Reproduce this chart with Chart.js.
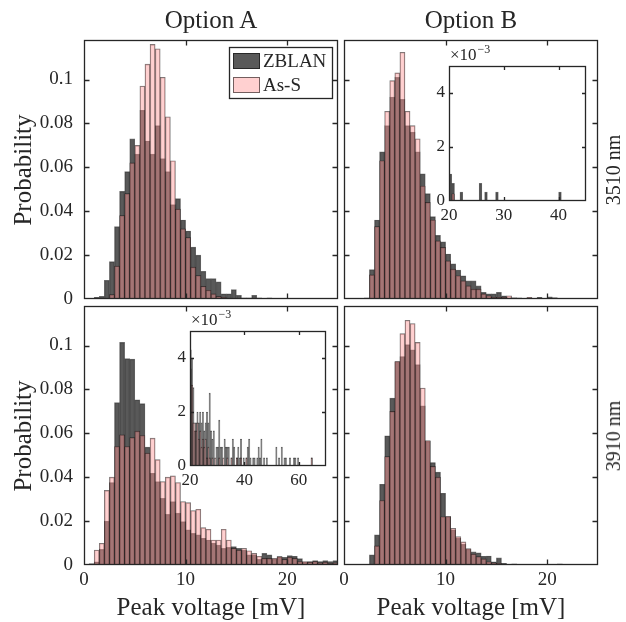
<!DOCTYPE html>
<html>
<head>
<meta charset="utf-8">
<title>Peak voltage histograms</title>
<script src="https://cdn.jsdelivr.net/npm/chart.js@4.4.1/dist/chart.umd.min.js"></script>
<style>
html,body{margin:0;padding:0;background:#ffffff;}
#fig{position:relative;width:626px;height:622px;overflow:hidden;background:#fff;}
#fig canvas{position:absolute;}
.lbl{position:absolute;white-space:nowrap;font-family:"Liberation Serif","Times New Roman",serif;color:#262626;line-height:1;transform:translate(-50%,-50%);}
.rot{transform:translate(-50%,-50%) rotate(-90deg);}
</style>
</head>
<body>
<div id="fig">
  <canvas id="cTL"></canvas><canvas id="cTR"></canvas><canvas id="cBL"></canvas><canvas id="cBR"></canvas>
  <canvas id="iTR"></canvas><canvas id="iBL"></canvas>
  <div class="lbl" style="left:211px;top:19px;font-size:25px">Option A</div>
  <div class="lbl" style="left:471px;top:19px;font-size:25px">Option B</div>
  <div class="lbl rot" style="left:22px;top:170px;font-size:25px">Probability</div>
  <div class="lbl rot" style="left:22px;top:436px;font-size:25px">Probability</div>
  <div class="lbl" style="left:211px;top:606px;font-size:25px">Peak voltage [mV]</div>
  <div class="lbl" style="left:471px;top:606px;font-size:25px">Peak voltage [mV]</div>
  <div class="lbl rot" style="left:613px;top:170px;font-size:20px">3510 nm</div>
  <div class="lbl rot" style="left:613px;top:436px;font-size:20px">3910 nm</div>
</div>
<script>
// ---------------- data ----------------
// histogram bin left edges [mV] (bin width 0.5 mV)
const bins = [0,0.5,1,1.5,2,2.5,3,3.5,4,4.5,
              5,5.5,6,6.5,7,7.5,8,8.5,9,9.5,
              10,10.5,11,11.5,12,12.5,13,13.5,14,14.5,
              15,15.5,16,16.5,17,17.5,18,18.5,19,19.5,
              20,20.5,21,21.5,22,22.5,23,23.5,24,24.5];

// Option A, 3510 nm
const zblanA3510 = [0,0,0.0008,0.0012,0.0085,0.017,0.033,0.049,0.058,0.073,
                    0.066,0.086,0.072,0.066,0.079,0.064,0.058,0.043,0.0457,0.036,
                    0.031,0.0236,0.020,0.0126,0.0093,0.0093,0.0078,0.0024,0.0024,0.0043,
                    0.0017,0.0005,0.0005,0.0017,0.0005,0,0.0005,0,0,0,
                    0,0,0,0,0,0,0,0,0,0];
const assA3510   = [0,0,0,0,0,0.002,0.015,0.038,0.048,0.062,
                    0.070,0.097,0.107,0.116,0.114,0.101,0.083,0.063,0.041,0.032,
                    0.028,0.0145,0.0107,0.0058,0.004,0.0023,0.0012,0.0008,0,0,
                    0,0,0,0,0,0,0,0,0,0,
                    0,0,0,0,0,0,0,0,0,0];

// Option B, 3510 nm
const zblanB3510 = [0,0,0,0,0.0005,0.0134,0.036,0.067,0.079,0.092,
                    0.101,0.091,0.079,0.076,0.067,0.057,0.048,0.0375,0.029,0.026,
                    0.0205,0.016,0.0132,0.0106,0.0083,0.0083,0.006,0.003,0.0023,0.0023,
                    0.003,0.0015,0.0005,0.0005,0.0005,0,0.0005,0,0.0008,0,
                    0.001,0.00065,0,0,0.00033,0,0,0,0,0];
const assB3510   = [0,0,0,0,0.0003,0.011,0.033,0.063,0.0855,0.0995,
                    0.103,0.1124,0.0855,0.079,0.073,0.0515,0.044,0.036,0.0265,0.0235,
                    0.0174,0.0136,0.0106,0.0083,0.006,0.0045,0.0045,0.0023,0.0015,0.0008,
                    0.0008,0.0008,0.0015,0.0005,0,0,0.0008,0,0,0,
                    0,0.00027,0,0,0,0,0,0,0,0];
const tailBinsB3510  = [25.5,26.5,28.5,40];
const tailZblanB3510 = [0.00065,0.00033,0.00033,0.00033];
const tailAssB3510   = [0,0,0,0];

// Option A, 3910 nm
const zblanA3910 = [0,0.0006,0.0015,0.0071,0.020,0.0376,0.074,0.1014,0.094,0.0938,
                    0.0753,0.0735,0.0537,0.0418,0.038,0.0304,0.0231,0.0289,0.0236,0.0198,
                    0.016,0.0144,0.0137,0.0122,0.0114,0.010,0.0091,0.0076,0.008,0.0084,
                    0.0076,0.0068,0.0046,0.0046,0.0026,0.0053,0.0046,0.0026,0.0038,0.0035,
                    0.0043,0.0040,0.0029,0.0013,0.0016,0.0020,0.0016,0.0020,0.0016,0.0020];
const assA3910   = [0,0,0.0068,0.0099,0.034,0.040,0.054,0.0593,0.054,0.058,
                    0.061,0.059,0.051,0.0578,0.048,0.038,0.040,0.0406,0.0376,0.0289,
                    0.0284,0.0248,0.0254,0.017,0.0163,0.0114,0.0114,0.0163,0.0114,0.0076,
                    0.0068,0.0076,0.0065,0.0053,0.004,0.003,0.003,0.003,0.0038,0.0026,
                    0.0036,0.0030,0.0016,0.0016,0.0013,0.0016,0.0010,0.0013,0.0007,0.0010];
const tailBinsA3910  = [25,25.5,26,26.5,27,27.5,28,28.5,29,29.5,30,30.5,31,31.5,32,32.5,33,33.5,34,35,
                        35.5,36,37,37.5,38,38.5,39.5,40.5,41,41.5,42,43,43.5,44.5,45,45.5,46,47,48,51.5,
                        52.5,53.5,54.5,55,56.5,58,58.5,59.5,64.5];
const tailZblanA3910 = [0.0013,0.0016,0.0020,0.0016,0.0027,0.0013,0.0010,0.0013,0,0.0007,0.0007,0.0017,0.0007,0.0007,0,0.0010,0.0007,0.0007,0.0007,0.0003,
                        0.0010,0.0007,0.0003,0.0007,0.0003,0.0010,0.0003,0.0003,0.0007,0.0010,0.0003,0.0003,0.0003,0.0003,0.0007,0.0003,0.0010,0.0003,0.0003,0.0007,
                        0.0003,0.0007,0.0003,0.0003,0.0003,0.0003,0.0003,0.0003,0.0003];
const tailAssA3910   = [0.0007,0.0010,0.0003,0.0007,0.0003,0,0.0003,0,0.0003,0,0,0.0003,0,0,0.0003,0,0,0.0003,0,0.0003,
                        0,0,0.0003,0,0,0.0003,0,0.0003,0,0,0,0,0,0,0,0,0,0,0,0,
                        0,0,0,0,0,0,0,0,0.0003];

// Option B, 3910 nm
const zblanB3910 = [0,0,0,0,0,0.0046,0.0137,0.0368,0.0589,0.076,
                    0.0925,0.095,0.1004,0.098,0.0913,0.0725,0.0563,0.0467,0.0423,0.0327,
                    0.022,0.016,0.0122,0.0095,0.0072,0.006,0.0055,0.004,0.0041,0.0015,
                    0.0033,0.0008,0.0003,0.0005,0.0003,0,0,0,0,0,
                    0,0.0003,0.0005,0,0,0,0,0,0,0];
const assB3910   = [0,0,0,0,0,0,0.0087,0.0294,0.0494,0.070,
                    0.0928,0.1054,0.1115,0.110,0.1014,0.0806,0.0567,0.0449,0.040,0.022,
                    0.0222,0.0167,0.0129,0.0105,0.0075,0.005,0.0038,0.0028,0.0015,0.001,
                    0.0008,0.0003,0,0.0003,0,0,0,0,0,0,
                    0,0,0,0,0,0,0,0,0,0];

// ---------------- styling ----------------
const FONT = '"Liberation Serif", "Times New Roman", serif';
const TXT = '#262626';
const Z_FILL = 'rgba(60,60,60,0.85)';
const A_FILL = 'rgba(255,150,150,0.45)';
const EDGE = 'rgba(0,0,0,0.55)';

function toPoints(edges, vals) {
  const w = bins[1] - bins[0];
  const pts = [];
  edges.forEach((e, i) => { if (vals[i] > 0) pts.push({x: e + w / 2, y: vals[i]}); });
  return pts;
}
function makeDatasets(z, a, tb, tz, ta) {
  const edges = bins.concat(tb || []);
  const zv = z.concat(tz || []);
  const av = a.concat(ta || []);
  return [
    {label: 'ZBLAN', data: toPoints(edges, zv), backgroundColor: Z_FILL, borderColor: EDGE,
     borderWidth: 0.7, order: 1, barPercentage: 1, categoryPercentage: 1, grouped: false},
    {label: 'As-S', data: toPoints(edges, av), backgroundColor: A_FILL, borderColor: EDGE,
     borderWidth: 0.7, order: 0, barPercentage: 1, categoryPercentage: 1, grouped: false}
  ];
}

const framePlugin = {
  id: 'frame',
  beforeDatasetsDraw(chart, args, o) {
    if (!o.fill) return;
    const a = chart.chartArea, ctx = chart.ctx;
    ctx.save(); ctx.fillStyle = '#ffffff';
    ctx.fillRect(a.left, a.top, a.right - a.left, a.bottom - a.top);
    ctx.restore();
  },
  afterDraw(chart, args, o) {
    const {ctx, chartArea: a} = chart;
    const x = chart.scales.x, y = chart.scales.y;
    const tl = o.tick;
    const L = Math.round(a.left) + 0.5, R = Math.round(a.right) - 0.5;
    const T = Math.round(a.top) + 0.5, B = Math.round(a.bottom) - 0.5;
    ctx.save();
    ctx.strokeStyle = TXT; ctx.lineWidth = 1.3;
    ctx.beginPath();
    x.ticks.forEach(t => {
      const p = Math.round(x.getPixelForValue(t.value)) + 0.5;
      if (p <= L + 1 || p >= R - 1) return;
      ctx.moveTo(p, B); ctx.lineTo(p, B - tl);
      ctx.moveTo(p, T); ctx.lineTo(p, T + tl);
    });
    y.ticks.forEach(t => {
      const p = Math.round(y.getPixelForValue(t.value)) + 0.5;
      if (p <= T + 1 || p >= B - 1) return;
      ctx.moveTo(L, p); ctx.lineTo(L + tl, p);
      ctx.moveTo(R, p); ctx.lineTo(R - tl, p);
    });
    ctx.stroke();
    ctx.strokeRect(L, T, R - L, B - T);
    if (o.exponent) {
      ctx.fillStyle = TXT;
      ctx.textBaseline = 'alphabetic';
      ctx.font = '17px ' + FONT;
      ctx.fillText('\u00d710', a.left + 1, a.top - 6);
      const w = ctx.measureText('\u00d710').width;
      ctx.font = '12px ' + FONT;
      ctx.fillText('\u22123', a.left + 1 + w + 1, a.top - 13);
    }
    ctx.restore();
  }
};

const legendPlugin = {
  id: 'boxLegend',
  afterDraw(chart, args, o) {
    if (!o.show) return;
    const {ctx, chartArea: a} = chart;
    const bx = Math.round(a.right) - 109, by = Math.round(a.top) + 7, bw = 103, bh = 51;
    ctx.save();
    ctx.fillStyle = '#ffffff'; ctx.fillRect(bx, by, bw, bh);
    ctx.strokeStyle = TXT; ctx.lineWidth = 1.3; ctx.strokeRect(bx + 0.5, by + 0.5, bw, bh);
    const ds = chart.data.datasets;
    const items = [ds.find(d => d.label === 'ZBLAN'), ds.find(d => d.label === 'As-S')];
    items.forEach((d, i) => {
      const sy = by + 6 + i * 24;
      ctx.fillStyle = d.backgroundColor; ctx.fillRect(bx + 4, sy, 27, 16);
      ctx.strokeStyle = d.borderColor; ctx.lineWidth = 1; ctx.strokeRect(bx + 4.5, sy + 0.5, 26, 15);
      ctx.fillStyle = TXT; ctx.font = '19px ' + FONT; ctx.textBaseline = 'alphabetic';
      ctx.fillText(d.label, bx + 34, sy + 14);
    });
    ctx.restore();
  }
};

function makeChart(id, g, datasets, s) {
  const cv = document.getElementById(id);
  const W = g.w + g.L + g.R, H = g.h + g.T + g.B;
  cv.width = W; cv.height = H;
  cv.style.width = W + 'px'; cv.style.height = H + 'px';
  cv.style.left = (g.x - g.L) + 'px'; cv.style.top = (g.y - g.T) + 'px';
  return new Chart(cv, {
    type: 'bar',
    data: {datasets: datasets},
    options: {
      responsive: false, animation: false, devicePixelRatio: 1,
      layout: {padding: {left: 0, top: g.T, right: g.R, bottom: 0}},
      plugins: {
        legend: {display: false}, tooltip: {enabled: false},
        frame: {tick: s.tick, fill: s.fill, exponent: s.exponent},
        boxLegend: {show: !!s.legend}
      },
      scales: {
        x: {
          type: 'linear', min: s.xmin, max: s.xmax, offset: false,
          grid: {display: false, drawTicks: false, offset: false}, border: {display: false},
          ticks: {display: s.xlab, stepSize: s.xstep, includeBounds: false, autoSkip: false, maxRotation: 0,
                  padding: s.xpad, color: TXT, font: {family: FONT, size: s.fs},
                  callback: v => String(v)},
          afterFit: sc => { sc.height = g.B; }
        },
        y: {
          type: 'linear', min: 0, max: s.ymax,
          grid: {display: false, drawTicks: false}, border: {display: false},
          ticks: {display: s.ylab, stepSize: s.ystep, includeBounds: false, autoSkip: false,
                  padding: s.ypad, color: TXT, font: {family: FONT, size: s.fs},
                  callback: s.yfmt},
          afterFit: sc => { sc.width = g.L; }
        }
      }
    },
    plugins: [framePlugin, legendPlugin]
  });
}

const fmtMain = v => String(Math.round(v * 100) / 100);
const fmtInset = v => String(Math.round(v * 1000));
const mainScale = {xmin: 0, xmax: 25, xstep: 10, ymax: 0.118, ystep: 0.02, fs: 19, xpad: 4, ypad: 11, tick: 5, yfmt: fmtMain};

makeChart('cTL', {x: 84, y: 40, w: 254, h: 259, L: 84, T: 30, R: 12, B: 30},
  makeDatasets(zblanA3510, assA3510), Object.assign({}, mainScale, {xlab: false, ylab: true, legend: true}));
makeChart('cTR', {x: 344, y: 40, w: 254, h: 259, L: 12, T: 30, R: 12, B: 30},
  makeDatasets(zblanB3510, assB3510, tailBinsB3510, tailZblanB3510, tailAssB3510), Object.assign({}, mainScale, {xlab: false, ylab: false}));
makeChart('cBL', {x: 84, y: 306, w: 254, h: 259, L: 84, T: 30, R: 12, B: 34},
  makeDatasets(zblanA3910, assA3910, tailBinsA3910, tailZblanA3910, tailAssA3910), Object.assign({}, mainScale, {xlab: true, ylab: true}));
makeChart('cBR', {x: 344, y: 306, w: 254, h: 259, L: 12, T: 30, R: 12, B: 34},
  makeDatasets(zblanB3910, assB3910), Object.assign({}, mainScale, {xlab: true, ylab: false}));

// insets (tails of the same histograms)
makeChart('iTR', {x: 449, y: 66, w: 137, h: 135, L: 24, T: 26, R: 12, B: 26},
  makeDatasets(zblanB3510, assB3510, tailBinsB3510, tailZblanB3510, tailAssB3510),
  {xmin: 20, xmax: 45, xstep: 10, ymax: 0.005, ystep: 0.002, fs: 17, xpad: 4, ypad: 4, tick: 3.5,
   yfmt: fmtInset, xlab: true, ylab: true, fill: true, exponent: true});
makeChart('iBL', {x: 190, y: 331, w: 136, h: 135, L: 24, T: 26, R: 12, B: 26},
  makeDatasets(zblanA3910, assA3910, tailBinsA3910, tailZblanA3910, tailAssA3910),
  {xmin: 20, xmax: 70, xstep: 20, ymax: 0.005, ystep: 0.002, fs: 17, xpad: 4, ypad: 4, tick: 3.5,
   yfmt: fmtInset, xlab: true, ylab: true, fill: true, exponent: true});
</script>
</body>
</html>
